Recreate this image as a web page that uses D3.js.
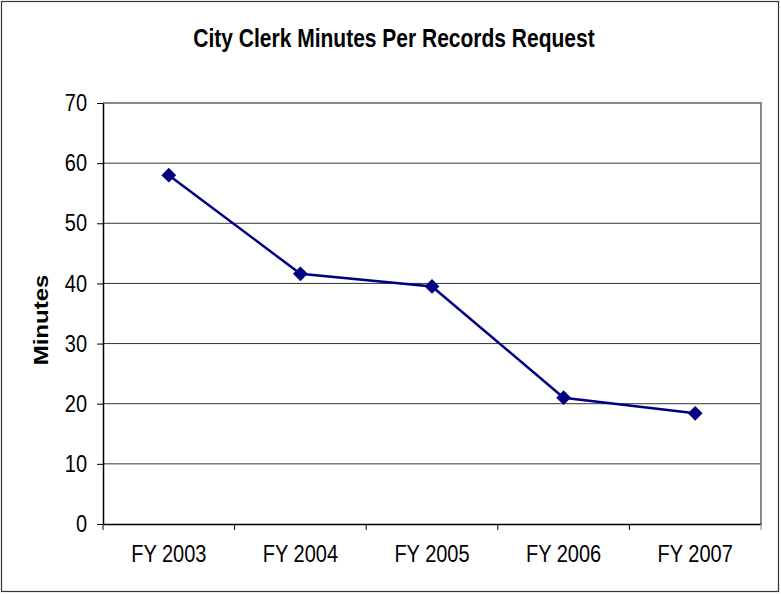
<!DOCTYPE html>
<html>
<head>
<meta charset="utf-8">
<script src="https://cdn.jsdelivr.net/npm/d3@7"></script>
<style>
  body { margin: 0; background: #fff; }
  text { font-family: "Liberation Sans", Arial, sans-serif; }
</style>
</head>
<body>
<div id="chart"></div>
<script>
// data
var years = ["FY 2003", "FY 2004", "FY 2005", "FY 2006", "FY 2007"];
var minutes = [58, 41.6, 39.5, 21, 18.4];
var yTicks = [0, 10, 20, 30, 40, 50, 60, 70];

var width = 781, height = 594;
var margin = {top: 103, right: 20, bottom: 70, left: 103};
var plotW = 761 - margin.left, plotH = 524 - margin.top;
var stretch = 1.2; // text in the original is drawn a bit tall

var svg = d3.select("#chart").append("svg")
    .attr("width", width)
    .attr("height", height);

// outer frame
svg.append("rect")
    .attr("x", 1.5).attr("y", 1.5)
    .attr("width", width - 4).attr("height", height - 4)
    .attr("fill", "#fff")
    .attr("stroke", "#333").attr("stroke-width", 1.2);

svg.append("text")
    .attr("transform", "translate(394,47) scale(1," + stretch + ")")
    .attr("text-anchor", "middle")
    .style("font-size", "21px").style("font-weight", "bold")
    .text("City Clerk Minutes Per Records Request");

var g = svg.append("g")
    .attr("transform", "translate(" + margin.left + "," + margin.top + ")");

var x = d3.scaleBand().domain(years).range([0, plotW]);
var y = d3.scaleLinear().domain([0, 70]).range([plotH, 0]);

// gridlines
g.append("g").selectAll("line")
    .data(yTicks.filter(function(d) { return d > 0 && d < 70; }))
    .enter().append("line")
    .attr("x1", 0).attr("x2", plotW)
    .attr("y1", function(d) { return y(d); })
    .attr("y2", function(d) { return y(d); })
    .attr("stroke", "#333").attr("stroke-width", 1);

// top + right plot border (gray)
g.append("path")
    .attr("d", "M0," + y(70) + "H" + plotW + "V" + plotH)
    .attr("fill", "none")
    .attr("stroke", "#888").attr("stroke-width", 2);

// y axis
var yAxis = g.append("g")
    .call(d3.axisLeft(y).tickValues(yTicks).tickSize(6).tickSizeOuter(0).tickPadding(10));
yAxis.select(".domain").attr("stroke", "#000").attr("stroke-width", 1.5);
yAxis.selectAll(".tick line").attr("stroke", "#000");
yAxis.selectAll("text")
    .style("font-size", "20px").attr("fill", "#000")
    .attr("transform", "scale(1," + stretch + ")");

// x axis with ticks at band edges
var xAxis = g.append("g")
    .attr("transform", "translate(0," + plotH + ")")
    .call(d3.axisBottom(x).tickSize(0));
xAxis.select(".domain").attr("stroke", "#000").attr("stroke-width", 1.5);
xAxis.selectAll("text")
    .style("font-size", "20px").attr("fill", "#000")
    .attr("y", 38 / stretch).attr("dy", 0)
    .attr("transform", "scale(1," + stretch + ")");
xAxis.selectAll(".edge")
    .data(years.concat([null]))
    .enter().append("line")
    .attr("class", "edge")
    .attr("x1", function(d, i) { return i * x.bandwidth(); })
    .attr("x2", function(d, i) { return i * x.bandwidth(); })
    .attr("y1", 0).attr("y2", 6)
    .attr("stroke", function(d, i) { return i === years.length ? "#888" : "#000"; });

// y axis title
svg.append("text")
    .attr("transform", "translate(48,320) rotate(-90) scale(" + stretch + ",1)")
    .attr("text-anchor", "middle")
    .style("font-size", "20px").style("font-weight", "bold")
    .text("Minutes");

var pts = years.map(function(d, i) { return {year: d, value: minutes[i]}; });

var line = d3.line()
    .x(function(d) { return x(d.year) + x.bandwidth() / 2; })
    .y(function(d) { return y(d.value); });

g.append("path")
    .datum(pts)
    .attr("d", line)
    .attr("fill", "none")
    .attr("stroke", "#000080")
    .attr("stroke-width", 2.5);

g.selectAll(".marker")
    .data(pts)
    .enter().append("path")
    .attr("class", "marker")
    .attr("d", d3.symbol().type(d3.symbolDiamond2).size(140))
    .attr("transform", function(d) {
      return "translate(" + (x(d.year) + x.bandwidth() / 2) + "," + y(d.value) + ")";
    })
    .attr("fill", "#000080");
</script>
</body>
</html>
